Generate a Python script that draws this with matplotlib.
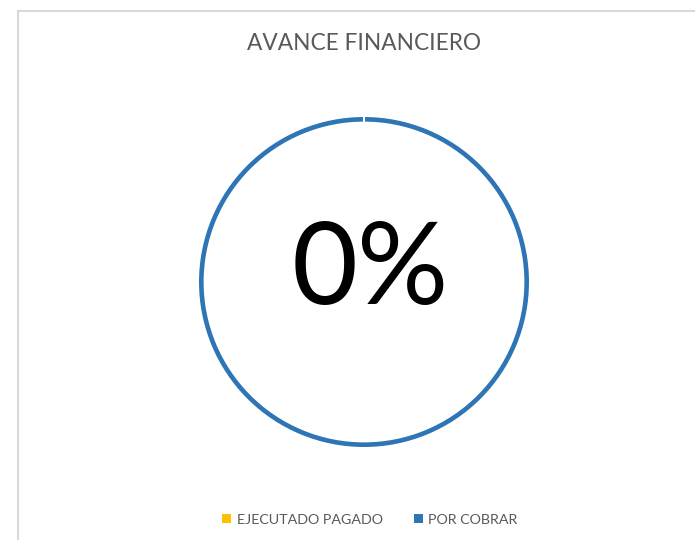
import matplotlib
matplotlib.use("Agg")
import matplotlib.pyplot as plt
from matplotlib.patches import Patch

categories = ["EJECUTADO PAGADO", "POR COBRAR"]
values = [0, 100]
colors = ["#FFC000", "#2E75B6"]
title = "AVANCE FINANCIERO"
center_label = "0%"

W, H = 695, 540
fig = plt.figure(figsize=(W / 100, H / 100), dpi=100)
fig.patch.set_facecolor("white")

# border (partially cropped frame)
fig.add_artist(plt.Line2D([18 / W, 18 / W], [0, 1 - 10.5 / H], transform=fig.transFigure,
                          color="#D9D9D9", lw=1.5))
fig.add_artist(plt.Line2D([18 / W, 1], [1 - 10.5 / H, 1 - 10.5 / H], transform=fig.transFigure,
                          color="#D9D9D9", lw=1.5))

ax = fig.add_axes([0, 0, 1, 1])
ax.pie(values, colors=colors, startangle=90, counterclock=False, radius=1.0,
       wedgeprops=dict(width=0.028, edgecolor="none", linewidth=0))
# separator at the top (zero-size slice boundary)
ax.plot([0, 0], [0.95, 1.03], color="white", lw=1.5, zorder=5)

cx, cy, R = 364, 540 - 282, 165
ax.set_xlim(-cx / R, (W - cx) / R)
ax.set_ylim(-cy / R, (H - cy) / R)
ax.set_aspect("equal")
ax.axis("off")

ax.text(6 / R, 0.02 + 6.5 / R, center_label, ha="center", va="center", fontsize=82,
        family="Lato", color="black")

fig.text(364 / W, 1 - 43 / H, title, ha="center", va="center", fontsize=16.3,
         family="Lato", color="#595959")

handles = [Patch(facecolor=c, edgecolor="none") for c in colors]
leg = fig.legend(handles, categories, loc="center", bbox_to_anchor=(370 / W, 1 - 520 / H),
                 ncol=2, frameon=False, handlelength=0.6, handleheight=0.6,
                 handletextpad=0.4, columnspacing=2.2, prop=dict(family="Lato", size=10.3))
for t in leg.get_texts():
    t.set_color("#595959")

fig.savefig("out.png", dpi=100, facecolor="white")
